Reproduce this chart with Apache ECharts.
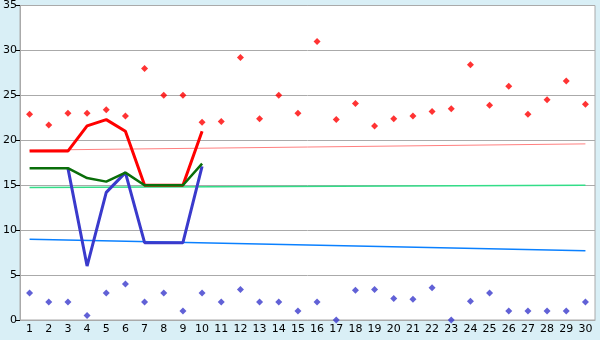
<!DOCTYPE html>
<html><head><meta charset="utf-8">
<script src="https://cdn.jsdelivr.net/npm/echarts@6/dist/echarts.min.js"></script>
<style>html,body{margin:0;padding:0;background:#d9eff6;}#c{width:600px;height:340px;}</style>
</head><body><div id="c"></div>
<script>
var categories = ['1','2','3','4','5','6','7','8','9','10','11','12','13','14','15','16','17','18','19','20','21','22','23','24','25','26','27','28','29','30'];
var highPoints = [22.9,21.7,23,23,23.4,22.7,28,25,25,22,22.1,29.2,22.4,25,23,31,22.3,24.1,21.6,22.4,22.7,23.2,23.5,28.4,23.9,26,22.9,24.5,26.6,24];
var lowPoints = [3,2,2,0.5,3,4,2,3,1,3,2,3.4,2,2,1,2,0,3.3,3.4,2.4,2.3,3.6,0,2.1,3,1,1,1,1,2];
var redLine = [18.8,18.8,18.8,21.6,22.3,21,15,15,15,21];
var greenLine = [16.9,16.9,16.9,15.8,15.4,16.4,15,15,15,17.4];
var blueLine = [null,null,16.9,6,14.2,16.4,8.6,8.6,8.6,17.1];
var redTrend = [['1',18.9],['30',19.6]];
var lightGreenTrend = [['1',14.75],['30',15.0]];
var blueTrend = [['1',9.0],['30',7.7]];
var yTicks = {min:0,max:35,interval:5};

var chart = echarts.init(document.getElementById('c'), null, {renderer:'canvas'});
var font = 'DejaVu Sans';
chart.setOption({
  backgroundColor:'#d9eff6',
  animation:false,
  grid:{left:20,right:5,top:5,bottom:20,show:true,backgroundColor:'#ffffff',borderColor:'#aaaaaa',borderWidth:1},
  xAxis:{type:'category',data:categories,boundaryGap:true,
    axisLine:{lineStyle:{color:'#aaaaaa'}},
    axisTick:{alignWithLabel:true,length:5,lineStyle:{color:'#000000'}},
    axisLabel:{color:'#000',fontFamily:font,fontSize:11,margin:4,interval:0},
    splitLine:{show:false}},
  yAxis:{type:'value',min:yTicks.min,max:yTicks.max,interval:yTicks.interval,
    axisLine:{show:true,lineStyle:{color:'#aaaaaa'}},
    axisTick:{show:true,length:4,lineStyle:{color:'#000'}},
    axisLabel:{color:'#000',fontFamily:font,fontSize:11,margin:3},
    splitLine:{lineStyle:{color:'#aaaaaa',width:1}}},
  series:[
    {type:'line',data:redTrend,symbol:'none',lineStyle:{color:'#ff8080',width:1},z:2},
    {type:'line',data:lightGreenTrend,symbol:'none',lineStyle:{color:'#33dd88',width:1.5},z:2},
    {type:'line',data:blueTrend,symbol:'none',lineStyle:{color:'#0a80ff',width:1.5},z:2},
    {type:'line',data:redLine,symbol:'none',lineStyle:{color:'#ff0000',width:3},z:3},
    {type:'line',data:blueLine,symbol:'none',lineStyle:{color:'#3a3acc',width:3},z:4},
    {type:'line',data:greenLine,symbol:'none',lineStyle:{color:'#0a6e0a',width:2.5},z:5},
    {type:'scatter',data:highPoints,symbol:'diamond',symbolSize:7,itemStyle:{color:'#ff0000'},z:6},
    {type:'scatter',data:lowPoints,symbol:'diamond',symbolSize:7,itemStyle:{color:'#3a3acc'},z:6}
  ]
});
</script></body></html>
